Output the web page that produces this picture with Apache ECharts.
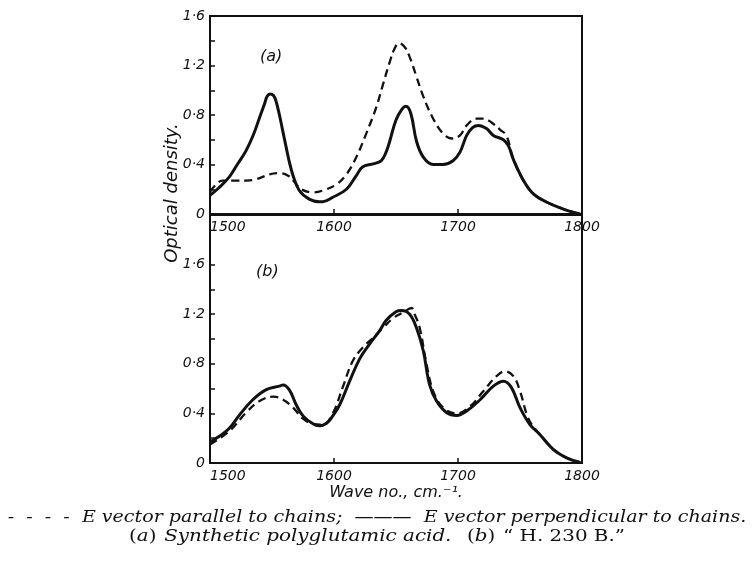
<!DOCTYPE html>
<html><head><meta charset="utf-8">
<script src="https://cdn.jsdelivr.net/npm/echarts@6/dist/echarts.min.js"></script>
<style>html,body{margin:0;padding:0;background:#fff}#c{width:754px;height:565px}</style>
</head><body><div id="c"></div>
<script>
// Panel (a): E vector perpendicular to chains (solid)
const aPerpWave = [1500,1507,1515.6,1522,1529,1535,1540,1544,1546,1548.5,1551,1553,1556,1558.5,1561.4,1564,1567,1572,1580,1588,1591,1599,1610,1618,1623,1631.5,1638,1642,1645,1650,1655,1658,1662,1666.5,1672,1680,1688,1696,1701.6,1707,1712,1716.4,1723,1728.5,1736.6,1740.7,1744.7,1752.8,1761,1771.7,1785,1798.6];
const aPerpOD   = [0.15,0.21,0.30,0.40,0.51,0.64,0.78,0.89,0.95,0.97,0.96,0.92,0.80,0.68,0.54,0.42,0.31,0.19,0.12,0.10,0.10,0.135,0.20,0.31,0.38,0.405,0.43,0.50,0.59,0.76,0.85,0.87,0.81,0.59,0.46,0.40,0.40,0.43,0.50,0.635,0.70,0.716,0.69,0.635,0.60,0.55,0.44,0.27,0.16,0.095,0.04,0.0];
// Panel (a): E vector parallel to chains (dashed)
const aParWave = [1500,1505,1510,1520,1529,1537,1548,1556,1563,1568,1573.6,1583,1591,1602,1610,1618,1626,1634,1639.6,1645,1649,1652.5,1657,1661,1666.5,1672,1680,1688,1695,1701.6,1707,1715,1720.5,1727,1734,1739,1744.7,1752.8,1761,1771.7,1785,1798.6];
const aParOD   = [0.18,0.24,0.27,0.27,0.27,0.28,0.32,0.33,0.31,0.26,0.20,0.175,0.19,0.24,0.32,0.46,0.65,0.86,1.05,1.23,1.34,1.38,1.35,1.27,1.11,0.95,0.77,0.65,0.61,0.635,0.716,0.77,0.77,0.74,0.68,0.635,0.44,0.27,0.16,0.095,0.04,0.0];
// Panel (b): perpendicular (solid)
const bPerpWave = [1500,1507.5,1515.6,1524,1534.5,1545,1556,1559,1564,1569.5,1575,1583,1588,1594,1599,1604.6,1612.6,1620.7,1628.8,1637,1642,1650,1654.4,1661,1666.5,1672,1677,1682.7,1691,1699,1707,1717.8,1728.5,1736.6,1743,1750,1758,1766,1777,1788,1798.6];
const bPerpOD   = [0.17,0.216,0.28,0.39,0.51,0.59,0.62,0.63,0.59,0.47,0.38,0.316,0.30,0.32,0.38,0.47,0.66,0.84,0.96,1.07,1.15,1.22,1.23,1.20,1.09,0.905,0.635,0.50,0.405,0.384,0.42,0.51,0.62,0.66,0.61,0.446,0.31,0.23,0.108,0.04,0.005];
// Panel (b): parallel (dashed)
const bParWave = [1500,1515.6,1529,1540,1551,1559,1567,1575,1583,1591,1599,1607,1615,1623,1631.5,1640,1648,1656,1662.5,1665,1669,1674.6,1680,1688,1699,1710,1720.5,1731,1738,1744.7,1750,1755.5,1759.5,1766,1777,1788,1798.6];
const bParOD   = [0.15,0.257,0.405,0.50,0.535,0.51,0.446,0.357,0.316,0.31,0.40,0.61,0.82,0.93,1.01,1.095,1.17,1.216,1.25,1.20,1.095,0.80,0.58,0.446,0.40,0.46,0.58,0.70,0.74,0.70,0.58,0.39,0.31,0.23,0.108,0.04,0.005];

const xTicks = [1500,1600,1700,1800];
const yTickValues = [0,0.2,0.4,0.6,0.8,1.0,1.2,1.4,1.6];
const yLabelValues = [0,0.4,0.8,1.2,1.6];

const pairs = (xs, ys) => xs.map((x, i) => [x, ys[i]]);
const fmtY = v => v === 0 ? '0' : v.toFixed(1).replace('.', '\u00B7');
const ink = '#111';
const handFont = {fontFamily: 'DejaVu Sans', fontStyle: 'italic', color: ink};

function xAxisCfg(gi, name) {
  return {
    type: 'value', gridIndex: gi, min: 1500, max: 1800, interval: 100,
    axisLine: {lineStyle: {color: ink, width: 2}},
    axisTick: {inside: true, length: 5, lineStyle: {color: ink, width: 1.5}},
    axisLabel: Object.assign({fontSize: 14, margin: 6, alignMinLabel: 'left', customValues: xTicks, formatter: v => String(v)}, handFont),
    splitLine: {show: false},
    name: name || '', nameLocation: 'middle', nameGap: 22,
    nameTextStyle: Object.assign({fontSize: 16}, handFont)
  };
}
function yAxisCfg(gi, max) {
  return {
    type: 'value', gridIndex: gi, min: 0, max: max,
    axisLine: {lineStyle: {color: ink, width: 2}},
    axisTick: {inside: true, length: 5, customValues: yTickValues, lineStyle: {color: ink, width: 1.5}},
    axisLabel: Object.assign({fontSize: 14, margin: 5, customValues: yLabelValues, formatter: fmtY}, handFont),
    splitLine: {show: false}
  };
}
function lineSeries(gi, data, dashed) {
  return {
    type: 'line', xAxisIndex: gi, yAxisIndex: gi, data: data, smooth: 0.4,
    symbol: 'none', animation: false,
    lineStyle: dashed ? {color: ink, width: 2.3, type: [8, 5]} : {color: ink, width: 3}
  };
}

const chart = echarts.init(document.getElementById('c'));
chart.setOption({
  backgroundColor: '#fff',
  animation: false,
  grid: [
    {left: 210, top: 16, width: 372, height: 198, show: true, borderColor: ink, borderWidth: 2},
    {left: 210, top: 215, width: 372, height: 248, show: true, borderColor: ink, borderWidth: 2}
  ],
  xAxis: [xAxisCfg(0), xAxisCfg(1, 'Wave no., cm.\u207B\u00B9.')],
  yAxis: [yAxisCfg(0, 1.6), yAxisCfg(1, 2.0)],
  series: [
    lineSeries(0, pairs(aParWave, aParOD), true),
    lineSeries(0, pairs(aPerpWave, aPerpOD), false),
    lineSeries(1, pairs(bParWave, bParOD), true),
    lineSeries(1, pairs(bPerpWave, bPerpOD), false)
  ],
  graphic: [
    {type: 'text', left: 260, top: 49, style: {text: '(a)', fontSize: 16, fill: ink, fontFamily: 'DejaVu Sans', fontStyle: 'italic'}},
    {type: 'text', left: 256, top: 264, style: {text: '(b)', fontSize: 16, fill: ink, fontFamily: 'DejaVu Sans', fontStyle: 'italic'}},
    {type: 'text', x: 172, y: 193, rotation: Math.PI / 2,
     style: {text: 'Optical density.', fontSize: 18, fill: ink, fontFamily: 'DejaVu Sans', fontStyle: 'italic', align: 'center', verticalAlign: 'middle'}},
    {type: 'text', x: 377, y: 518, scaleX: 1.12,
     style: {text: '-  -  -  -  E vector parallel to chains;  \u2014\u2014\u2014  E vector perpendicular to chains.', fontSize: 17, fill: ink, fontFamily: 'DejaVu Serif', fontStyle: 'italic', align: 'center', verticalAlign: 'middle'}},
    {type: 'text', x: 377, y: 537, scaleX: 1.17,
     style: {
       text: '{u|(}{i|a}{u|)}  {i|Synthetic polyglutamic acid.}    {u|(}{i|b}{u|)}  {u|\u201C H. 230 B.\u201D}',
       align: 'center', verticalAlign: 'middle', fill: ink,
       rich: {
         u: {fontSize: 17, fontFamily: 'DejaVu Serif', fill: ink},
         i: {fontSize: 17, fontFamily: 'DejaVu Serif', fontStyle: 'italic', fill: ink}
       }
     }}
  ]
});
</script>
</body></html>
